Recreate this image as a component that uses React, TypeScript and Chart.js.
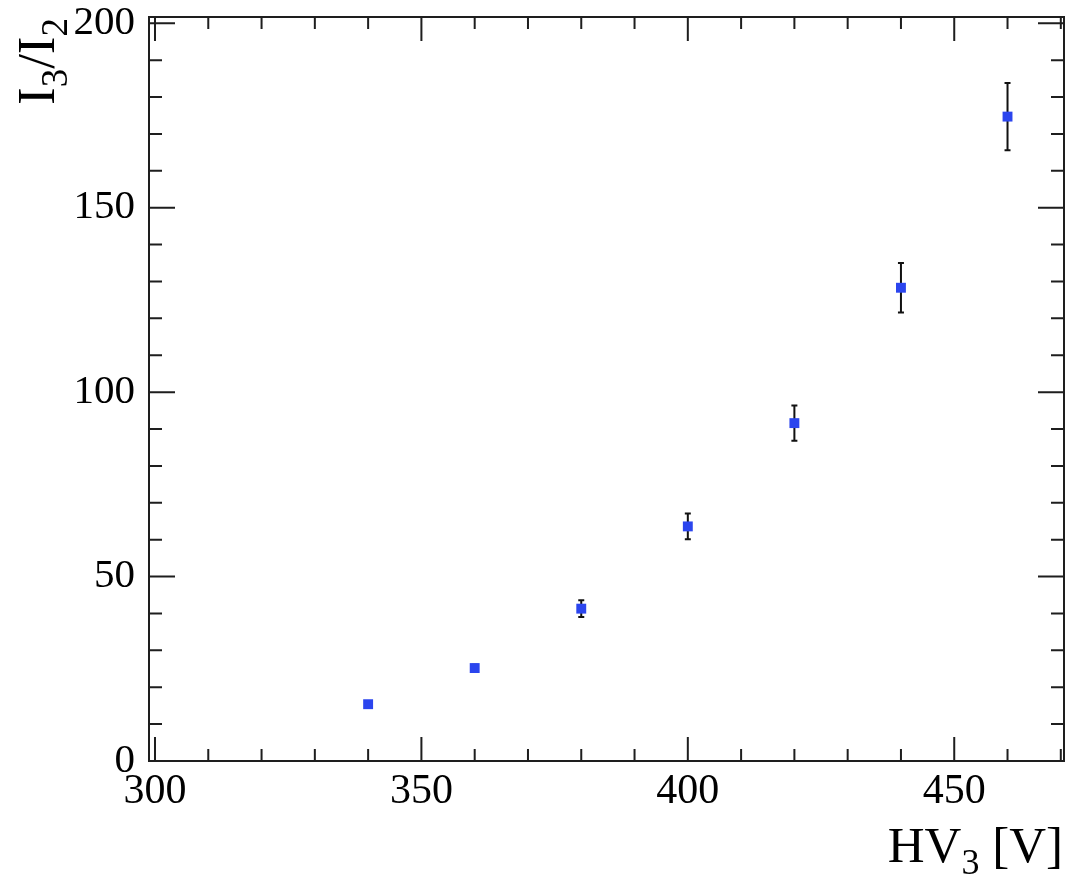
import React, { useEffect, useRef } from "react";
import { Chart, registerables } from "chart.js";

Chart.register(...registerables);

const hvVolts = [340, 360, 380, 400, 420, 440, 460];
const ratioValues = [15.4, 25.2, 41.3, 63.6, 91.6, 128.3, 174.7];
const ratioErrors = [0.6, 0.9, 2.25, 3.5, 4.8, 6.7, 9.1];

const xMajorTicks = [300, 350, 400, 450];
const yMajorTicks = [0, 50, 100, 150, 200];
const xMinorTicks = [300, 310, 320, 330, 340, 350, 360, 370, 380, 390, 400, 410, 420, 430, 440, 450, 460, 470];
const yMinorTicks = [0, 10, 20, 30, 40, 50, 60, 70, 80, 90, 100, 110, 120, 130, 140, 150, 160, 170, 180, 190, 200];

const X_MIN = 298.875;
const X_MAX = 470.6;
const Y_MIN = 0;
const Y_MAX = 201.7;

const SERIF = '"Liberation Serif", "DejaVu Serif", serif';
const FRAME = "#1e1e1e";
const MARKER = "#2b45ee";

const framePlugin = {
  id: "rootFrame",
  beforeDatasetsDraw(chart: any) {
    const ctx = chart.ctx;
    const xs = chart.scales.x;
    const ys = chart.scales.y;
    ctx.save();
    ctx.strokeStyle = "#111";
    ctx.lineWidth = 2;
    ratioValues.forEach((v, i) => {
      const px = xs.getPixelForValue(hvVolts[i]);
      const top = ys.getPixelForValue(v + ratioErrors[i]);
      const bot = ys.getPixelForValue(v - ratioErrors[i]);
      ctx.beginPath();
      ctx.moveTo(px, top);
      ctx.lineTo(px, bot);
      ctx.moveTo(px - 3, top);
      ctx.lineTo(px + 3, top);
      ctx.moveTo(px - 3, bot);
      ctx.lineTo(px + 3, bot);
      ctx.stroke();
    });
    ctx.restore();
  },
  afterDraw(chart: any) {
    const ctx = chart.ctx;
    const { left, right, top, bottom } = chart.chartArea;
    const xs = chart.scales.x;
    const ys = chart.scales.y;
    ctx.save();
    ctx.strokeStyle = FRAME;
    ctx.lineWidth = 2;
    ctx.strokeRect(left, top, right - left, bottom - top);

    ctx.beginPath();
    xMinorTicks.forEach((v) => {
      const px = xs.getPixelForValue(v);
      const len = xMajorTicks.includes(v) ? 24 : 12;
      ctx.moveTo(px, bottom);
      ctx.lineTo(px, bottom - len);
      ctx.moveTo(px, top);
      ctx.lineTo(px, top + len);
    });
    yMinorTicks.forEach((v) => {
      const py = ys.getPixelForValue(v);
      const len = yMajorTicks.includes(v) ? 26 : 13;
      ctx.moveTo(left, py);
      ctx.lineTo(left + len, py);
      ctx.moveTo(right, py);
      ctx.lineTo(right - len, py);
    });
    ctx.stroke();

    // X axis title: HV_3 [V]
    ctx.fillStyle = "#000";
    ctx.textBaseline = "alphabetic";
    const big = `51px ${SERIF}`;
    const small = `36px ${SERIF}`;
    ctx.font = big;
    const wHV = ctx.measureText("HV").width;
    const wRest = ctx.measureText(" [V]").width;
    ctx.font = small;
    const w3 = ctx.measureText("3").width;
    const totalX = wHV + w3 + wRest;
    const x0 = right - 1 - totalX;
    const base = 862;
    ctx.font = big;
    ctx.fillText("HV", x0, base);
    ctx.font = small;
    ctx.fillText("3", x0 + wHV, base + 12);
    ctx.font = big;
    ctx.fillText(" [V]", x0 + wHV + w3, base);

    // Y axis title: I_3/I_2 rotated
    ctx.save();
    ctx.translate(54, top + 1);
    ctx.rotate(-Math.PI / 2);
    const ybig = `53px ${SERIF}`;
    const ysmall = `37px ${SERIF}`;
    const parts = [
      { t: "I", f: ybig, dy: 0 },
      { t: "3", f: ysmall, dy: 13 },
      { t: "/", f: ybig, dy: 0 },
      { t: "I", f: ybig, dy: 0 },
      { t: "2", f: ysmall, dy: 13 },
    ];
    let total = 0;
    parts.forEach((p) => {
      ctx.font = p.f;
      total += ctx.measureText(p.t).width;
    });
    let cx = -total;
    parts.forEach((p) => {
      ctx.font = p.f;
      ctx.fillText(p.t, cx, p.dy);
      cx += ctx.measureText(p.t).width;
    });
    ctx.restore();
    ctx.restore();
  },
};

export default function App() {
  const canvasRef = useRef<HTMLCanvasElement | null>(null);

  useEffect(() => {
    if (!canvasRef.current) return;
    const chart = new Chart(canvasRef.current, {
      type: "scatter",
      data: {
        datasets: [
          {
            data: hvVolts.map((x, i) => ({ x, y: ratioValues[i] })),
            pointStyle: "rect",
            pointRadius: 7,
            pointBackgroundColor: MARKER,
            pointBorderWidth: 0,
            showLine: false,
          },
        ],
      },
      options: {
        animation: false,
        responsive: false,
        devicePixelRatio: 1,
        layout: { padding: { left: 0, top: 17, right: 6, bottom: 0 } },
        plugins: {
          legend: { display: false },
          tooltip: { enabled: false },
        },
        scales: {
          x: {
            type: "linear",
            min: X_MIN,
            max: X_MAX,
            grid: { display: false },
            border: { display: false },
            afterBuildTicks: (s: any) => {
              s.ticks = xMajorTicks.map((v) => ({ value: v }));
            },
            afterFit: (s: any) => {
              s.height = 115;
              s.paddingLeft = 0;
              s.paddingRight = 0;
            },
            ticks: {
              maxRotation: 0,
              autoSkip: false,
              padding: -2,
              color: "#000",
              font: { family: SERIF, size: 42 },
            },
          },
          y: {
            type: "linear",
            min: Y_MIN,
            max: Y_MAX,
            grid: { display: false },
            border: { display: false },
            afterBuildTicks: (s: any) => {
              s.ticks = yMajorTicks.map((v) => ({ value: v }));
            },
            afterFit: (s: any) => {
              s.width = 149;
              s.paddingTop = 0;
              s.paddingBottom = 0;
            },
            ticks: {
              autoSkip: false,
              padding: 6,
              color: "#000",
              font: { family: SERIF, size: 41 },
            },
          },
        },
      },
      plugins: [framePlugin],
    });
    return () => chart.destroy();
  }, []);

  return (
    <div style={{ position: "fixed", left: 0, top: 0, width: 1071, height: 876, background: "#fff" }}>
      <canvas ref={canvasRef} width={1071} height={876} />
    </div>
  );
}
